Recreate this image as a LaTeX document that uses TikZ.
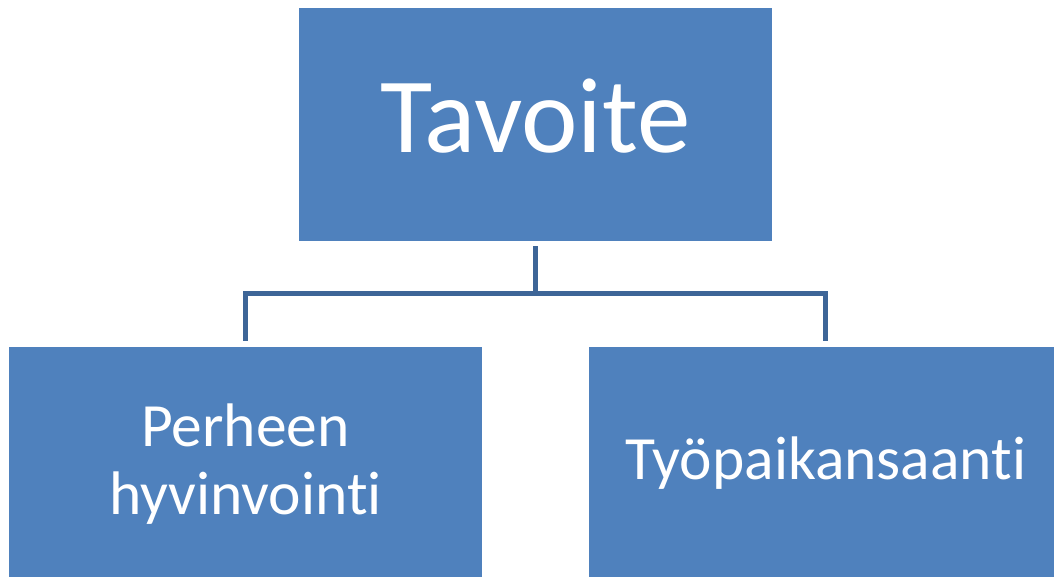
\documentclass[tikz,border=0pt]{standalone}
\usepackage{fontspec}
\setmainfont[RawFeature={-liga;-clig;-calt;-dlig}]{Carlito}
\definecolor{boxblue}{HTML}{4F81BD}
\definecolor{linkblue}{HTML}{3D6597}
\begin{document}
\begin{tikzpicture}[x=1pt,y=1pt,
  orgbox/.style={fill=boxblue, draw=none, inner sep=0pt},
  lbl/.style={text=white, anchor=base, inner sep=0pt},
  link/.style={draw=linkblue, line width=5pt}]
\useasboundingbox (0,0) rectangle (1054,577);
\node[orgbox, minimum width=473pt, minimum height=233pt] (top) at (535.5,452.5) {};
\node[orgbox, minimum width=473pt, minimum height=230pt] (left) at (245.5,115) {};
\node[orgbox, minimum width=465pt, minimum height=230pt] (right) at (821.5,115) {};
\node[lbl, font=\fontsize{107}{110}\selectfont] (toptext) at (535.5,424) {Tavoite};
\node[lbl, font=\fontsize{61.5}{65}\selectfont] (lefttext1) at (245.5,130) {Perheen};
\node[lbl, font=\fontsize{61.5}{65}\selectfont] (lefttext2) at (245.5,62) {hyvinvointi};
\node[lbl, font=\fontsize{61.5}{65}\selectfont] (righttext) at (826,97) {Työpaikansaanti};
\coordinate (hub) at (top.south |- 0,283);
\coordinate (ldrop) at (245.5,236);
\coordinate (rdrop) at (825.5,236);
\draw[link] ([yshift=-5pt]top.south) -- (hub);
\draw[link] (ldrop) |- (hub) -| (rdrop);
\end{tikzpicture}
\end{document}
